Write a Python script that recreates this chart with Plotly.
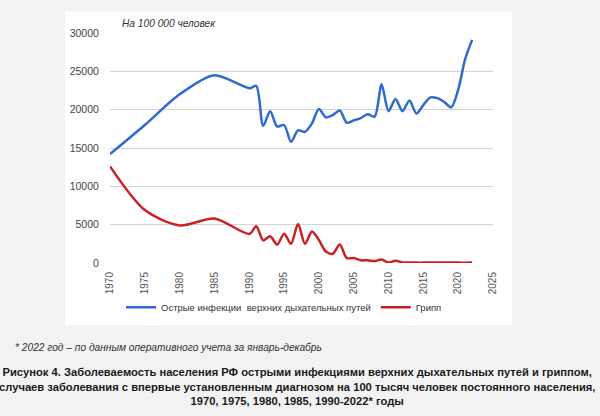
import plotly.graph_objects as go

years = [1970, 1975, 1980, 1985,
         1990, 1991, 1992, 1993, 1994, 1995, 1996, 1997, 1998, 1999,
         2000, 2001, 2002, 2003, 2004, 2005, 2006, 2007, 2008, 2009,
         2010, 2011, 2012, 2013, 2014, 2015, 2016, 2017, 2018, 2019,
         2020, 2021, 2022]

ari = [14200, 18000, 22000, 24500,
       22800, 23100, 17900, 19800, 17800, 18000, 15800, 17300, 17100, 18200,
       20100, 19000, 19300, 19900, 18300, 18600, 18900, 19400, 19100, 23300,
       19800, 21400, 19800, 21200, 19500, 20600, 21600, 21500, 21000, 20300,
       22600, 26600, 29100]

flu = [12600, 6900, 4900, 5800,
       3800, 4800, 2950, 3500, 2400, 3800, 2500, 5100, 2500, 4100,
       3000, 1500, 1200, 2400, 650, 650, 350, 350, 250, 450,
       60, 300, 80, 60, 50, 50, 60, 50, 50, 50,
       50, 40, 60]

x_ticks = [1970, 1975, 1980, 1985, 1990, 1995, 2000, 2005, 2010, 2015, 2020, 2025]
y_ticks = [0, 5000, 10000, 15000, 20000, 25000, 30000]

name_ari = "Острые инфекции  верхних дыхательных путей"
name_flu = "Грипп"

FONT = "Liberation Sans, Arial, sans-serif"
W, H = 600, 416
L, R, T, B = 110, 493, 32.7, 263.5

fig = go.Figure()
fig.add_trace(go.Scatter(x=years, y=ari, mode="lines", name=name_ari,
                         line=dict(color="#2f6bcf", width=2.5, shape="spline", smoothing=0.8)))
fig.add_trace(go.Scatter(x=years, y=flu, mode="lines", name=name_flu,
                         line=dict(color="#cc1f25", width=2.5, shape="spline", smoothing=0.8)))

fig.update_layout(
    width=W, height=H,
    paper_bgcolor="#f2f2f2",
    plot_bgcolor="white",
    margin=dict(l=L, r=W - R, t=T, b=H - B, pad=0),
    font=dict(family=FONT, color="#444"),
    showlegend=True,
    legend=dict(orientation="h", x=(284 - L) / (R - L), xanchor="center",
                y=(B - 308) / (B - T), yanchor="middle",
                font=dict(size=9.5, color="#333"), bgcolor="rgba(0,0,0,0)",
                itemwidth=30, tracegroupgap=0),
    xaxis=dict(range=[1970, 2025], tickvals=x_ticks, ticktext=[str(v) for v in x_ticks],
               tickangle=-90, showgrid=False, zeroline=False, showline=False,
               tickfont=dict(size=10, color="#555"), ticks="outside", ticklen=4,
               tickcolor="rgba(0,0,0,0)"),
    yaxis=dict(range=[0, 30000], tickvals=y_ticks, ticktext=[str(v) for v in y_ticks],
               showgrid=True, gridcolor="#d4d4d4", gridwidth=1.3, zeroline=False,
               showline=False, tickfont=dict(size=10.5, color="#444"),
               ticks="outside", ticklen=8, tickcolor="rgba(0,0,0,0)"),
    shapes=[dict(type="rect", xref="paper", yref="paper", layer="below",
                 x0=(65 - L) / (R - L), x1=(512 - L) / (R - L),
                 y0=(B - 326) / (B - T), y1=(B - 11) / (B - T),
                 fillcolor="white", line=dict(width=0))],
    annotations=[
        dict(text="<i>На 100 000 человек</i>", xref="paper", yref="paper",
             x=(120 - L) / (R - L), y=(B - 23) / (B - T), xanchor="left", yanchor="middle",
             showarrow=False, font=dict(size=10.2, color="#333", family=FONT)),
        dict(text="<i>* 2022 год – по данным оперативного учета за январь-декабрь</i>",
             xref="paper", yref="paper", x=(13 - L) / (R - L), y=(B - 348) / (B - T),
             xanchor="left", yanchor="middle", showarrow=False,
             font=dict(size=10.2, color="#333", family=FONT)),
        dict(text="<b>Рисунок 4. Заболеваемость населения РФ острыми инфекциями верхних дыхательных путей и гриппом,<br>"
                  "случаев заболевания с впервые установленным диагнозом на 100 тысяч человек постоянного населения,<br>"
                  "1970, 1975, 1980, 1985, 1990-2022* годы</b>",
             xref="paper", yref="paper", x=(297 - L) / (R - L), y=(B - 387) / (B - T),
             xanchor="center", yanchor="middle", align="center", showarrow=False,
             font=dict(size=11.2, color="#1a1a1a", family=FONT)),
    ],
)

fig.write_html("out.html", config={"displayModeBar": False},
               post_script="document.body.style.margin='0';document.body.style.padding='0';"
                           "document.body.style.overflow='hidden';")
